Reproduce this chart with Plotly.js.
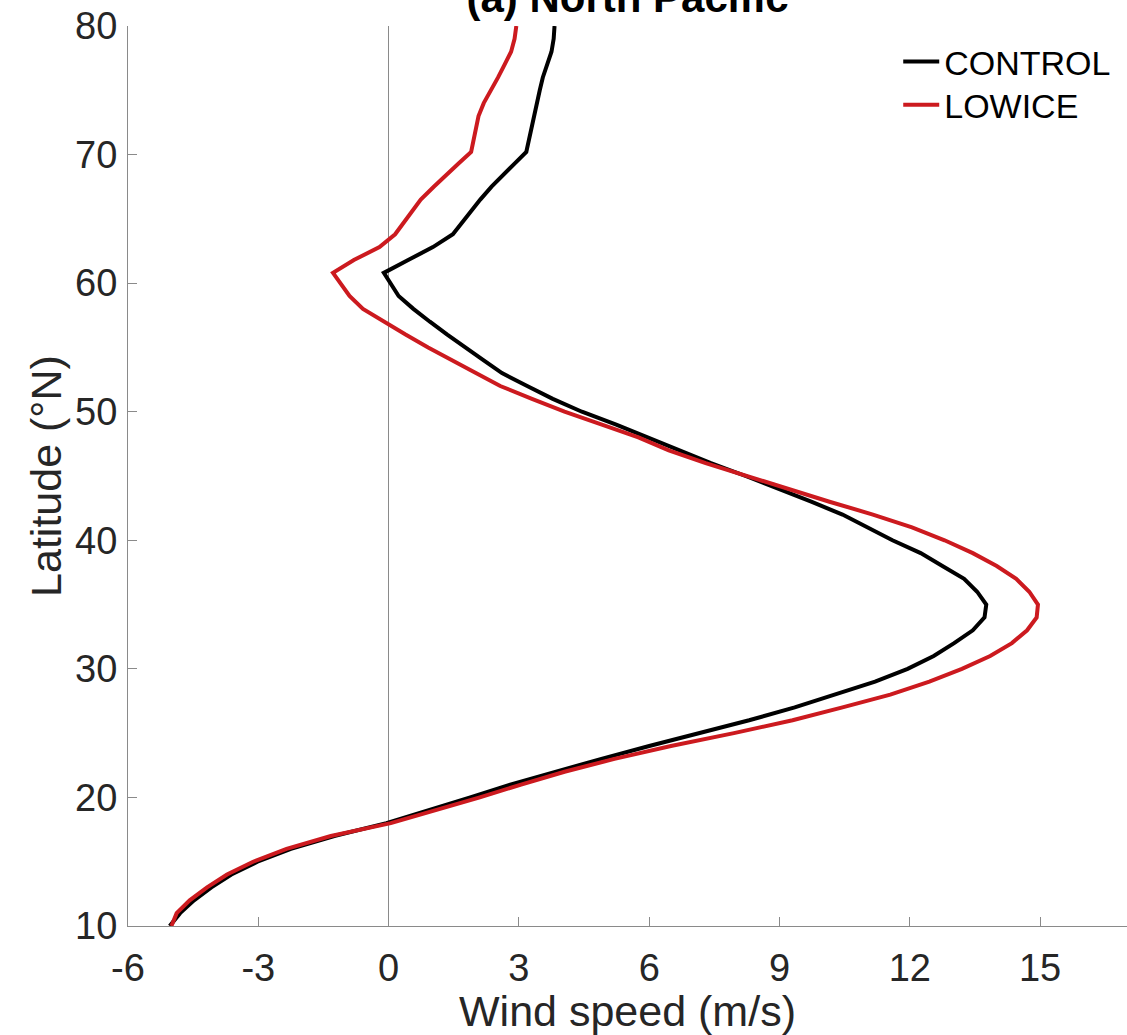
<!DOCTYPE html>
<html>
<head>
<meta charset="utf-8">
<script src="https://cdn.plot.ly/plotly-3.0.1.min.js"></script>
<style>
  html, body { margin: 0; padding: 0; background: #ffffff; }
  #chart { width: 1127px; height: 1035px; }
</style>
</head>
<body>
<div id="chart"></div>
<script>
// Zonal-mean wind profiles over the North Pacific
const latitude = [
  10, 11, 12, 13, 14, 15, 16, 17, 18, 19,
  20, 21, 22, 23, 24, 25, 26, 27, 28, 29,
  30, 31, 32, 33, 34, 35, 36, 37, 38, 39,
  40, 41, 42, 43, 44, 45, 46, 47, 48, 49,
  50, 51, 52, 53, 54, 55, 56, 57, 58, 59,
  60, 60.8, 61.8, 62.8, 63.8, 64.8, 65.8, 66.5, 67.5, 68.5,
  69.3, 70.2, 71, 72, 73, 74, 75, 76, 77, 78,
  79, 80
];

const controlWind = [
  -5.04, -4.80, -4.48, -4.08, -3.62, -3.02, -2.25, -1.25, -0.05, 0.95,
  1.88, 2.80, 3.82, 4.90, 6.00, 7.15, 8.30, 9.35, 10.30, 11.20,
  11.95, 12.55, 13.02, 13.45, 13.72, 13.76, 13.55, 13.25, 12.75, 12.25,
  11.60, 11.00, 10.45, 9.73, 9.00, 8.22, 7.42, 6.70, 5.98, 5.24,
  4.45, 3.78, 3.19, 2.61, 2.19, 1.76, 1.35, 0.95, 0.57, 0.23,
  0.03, -0.11, 0.45, 1.02, 1.48, 1.71, 1.95, 2.11, 2.37, 2.65,
  2.90, 3.17, 3.22, 3.27, 3.34, 3.40, 3.48, 3.55, 3.65, 3.75,
  3.80, 3.82
];

const lowiceWind = [
  -5.00, -4.88, -4.58, -4.18, -3.72, -3.12, -2.35, -1.33, 0.05, 1.10,
  2.10, 3.05, 4.05, 5.20, 6.50, 7.95, 9.30, 10.45, 11.55, 12.45,
  13.20, 13.85, 14.35, 14.70, 14.92, 14.95, 14.75, 14.45, 14.00, 13.45,
  12.80, 12.05, 11.15, 10.15, 9.20, 8.30, 7.30, 6.45, 5.75, 4.91,
  4.05, 3.30, 2.57, 2.02, 1.45, 0.91, 0.39, -0.12, -0.59, -0.90,
  -1.12, -1.28, -0.80, -0.21, 0.15, 0.36, 0.58, 0.74, 1.04, 1.34,
  1.61, 1.90, 1.95, 2.00, 2.07, 2.19, 2.36, 2.52, 2.67, 2.82,
  2.90, 2.94
];

const seriesNames = ['CONTROL', 'LOWICE'];

const xTickVals = [-6, -3, 0, 3, 6, 9, 12, 15];
const xTickText = ['-6', '-3', '0', '3', '6', '9', '12', '15'];
const yTickVals = [10, 20, 30, 40, 50, 60, 70, 80];
const yTickText = ['10', '20', '30', '40', '50', '60', '70', '80'];

const FONT = 'Liberation Sans, Arial, Helvetica, sans-serif';
const INK = '#262626';
const AXIS_GRAY = '#8a8a8a';

const traces = [
  {
    x: controlWind, y: latitude, name: seriesNames[0],
    type: 'scatter', mode: 'lines', legend: 'legend',
    line: { color: '#000000', width: 4 }
  },
  {
    x: lowiceWind, y: latitude, name: seriesNames[1],
    type: 'scatter', mode: 'lines', legend: 'legend2',
    line: { color: '#cc1a1f', width: 4 }
  }
];

const axisCommon = {
  showgrid: false,
  showline: true,
  linecolor: AXIS_GRAY,
  linewidth: 1,
  mirror: false,
  ticks: 'inside',
  ticklen: 9,
  tickwidth: 1,
  tickcolor: AXIS_GRAY,
  tickfont: { family: FONT, size: 38, color: INK },
  tickmode: 'array'
};

const legendCommon = {
  x: 0.771, xanchor: 'left',
  yanchor: 'middle',
  bgcolor: 'rgba(255,255,255,0)',
  borderwidth: 0,
  itemwidth: 36,
  font: { family: FONT, size: 34, color: '#000000' }
};

const layout = {
  width: 1127,
  height: 1035,
  paper_bgcolor: '#ffffff',
  plot_bgcolor: '#ffffff',
  margin: { l: 128, r: 0, t: 26, b: 109 },
  showlegend: true,
  title: {
    text: '<b>(a) North Pacific</b>',
    font: { family: FONT, size: 42, color: '#000000' },
    x: 0.5, xref: 'paper', xanchor: 'center',
    y: 0.988, yref: 'container', yanchor: 'bottom',
    pad: { t: 0, b: 0, l: 0, r: 0 }
  },
  xaxis: Object.assign({}, axisCommon, {
    range: [-6, 17],
    tickvals: xTickVals,
    ticktext: xTickText,
    ticklabelstandoff: 8,
    zeroline: true,
    zerolinecolor: AXIS_GRAY,
    zerolinewidth: 1,
    title: {
      text: 'Wind speed (m/s)',
      font: { family: FONT, size: 43, color: INK },
      standoff: 12
    }
  }),
  yaxis: Object.assign({}, axisCommon, {
    range: [10, 80],
    tickvals: yTickVals,
    ticktext: yTickText,
    ticklabelstandoff: 2,
    zeroline: false,
    title: {
      text: 'Latitude (°N)',
      font: { family: FONT, size: 43, color: INK },
      standoff: 0
    }
  }),
  legend: Object.assign({}, legendCommon, { y: 0.96 }),
  legend2: Object.assign({}, legendCommon, { y: 0.912 })
};

Plotly.newPlot('chart', traces, layout, { staticPlot: true, displayModeBar: false });
</script>
</body>
</html>
